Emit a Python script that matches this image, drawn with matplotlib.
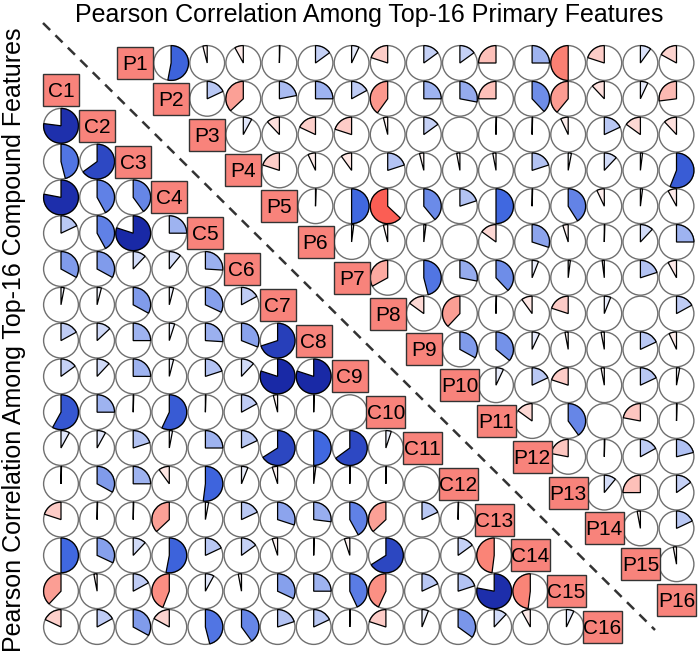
import numpy as np
import matplotlib.pyplot as plt
from matplotlib.patches import Circle, Wedge, Rectangle
from matplotlib.colors import LinearSegmentedColormap

plt.rcParams['font.family'] = ['Liberation Sans', 'DejaVu Sans']

title = "Pearson Correlation Among Top-16 Primary Features"
ylabel = "Pearson Correlation Among Top-16 Compound Features"
primary_labels = [f"P{i}" for i in range(1, 17)]
compound_labels = [f"C{i}" for i in range(1, 17)]

# lower triangle: row Ci against C1..C(i-1)
compound_corr = [
    [0.77],
    [0.46, 0.65],
    [0.78, 0.42, 0.40],
    [0.18, 0.42, 0.80, 0.25],
    [0.33, 0.33, 0.12, 0.11, 0.26],
    [0.03, 0.04, 0.33, 0.04, 0.32, 0.17],
    [0.17, 0.13, 0.25, 0.05, 0.26, 0.31, 0.70],
    [0.15, 0.12, 0.25, 0.04, 0.20, 0.12, 0.80, 0.80],
    [0.58, 0.25, 0.005, 0.57, 0.005, 0.17, -0.04, 0.005, 0.0],
    [0.08, 0.08, 0.20, 0.03, 0.25, 0.18, 0.66, 0.50, 0.65, 0.05],
    [0.005, 0.33, 0.25, -0.10, 0.52, 0.06, -0.05, 0.02, 0.005, 0.005, 0.0],
    [-0.20, 0.005, 0.005, -0.37, 0.03, 0.18, 0.30, 0.27, 0.42, -0.37, 0.18, 0.005],
    [0.50, 0.32, 0.12, 0.53, 0.18, 0.15, -0.05, 0.005, -0.05, 0.66, 0.0, 0.15, -0.48],
    [-0.38, -0.03, 0.17, -0.44, 0.08, -0.03, 0.32, 0.25, 0.43, -0.43, 0.18, 0.20, 0.78, -0.48],
    [-0.18, 0.17, 0.33, -0.17, 0.46, 0.40, 0.20, 0.18, 0.005, -0.20, 0.06, 0.35, 0.12, -0.08, 0.07],
]

# upper triangle: row Pi against P(i+1)..P16
primary_corr = [
    [0.53, -0.04, -0.08, 0.005, 0.15, 0.07, -0.20, 0.15, 0.15, -0.25, 0.25, -0.50, -0.20, 0.10, -0.17],
    [0.18, -0.37, 0.22, 0.25, 0.17, -0.40, 0.25, 0.28, -0.25, 0.38, -0.39, -0.12, 0.07, -0.27],
    [0.08, -0.12, -0.18, -0.20, -0.04, 0.15, 0.0, 0.005, 0.005, -0.07, 0.18, -0.15, -0.12],
    [-0.20, -0.07, -0.10, 0.20, -0.04, -0.03, -0.03, 0.20, 0.03, 0.12, 0.02, 0.56],
    [0.005, 0.50, -0.63, 0.39, 0.20, 0.50, 0.005, 0.41, -0.07, 0.02, -0.08],
    [0.02, -0.04, 0.02, 0.0, -0.15, 0.30, -0.05, 0.005, 0.12, 0.25],
    [-0.33, 0.46, 0.28, 0.38, 0.06, 0.02, -0.02, 0.20, -0.08],
    [-0.15, -0.38, 0.005, -0.10, -0.20, 0.06, 0.0, 0.17],
    [0.33, 0.36, 0.07, -0.03, -0.03, 0.18, -0.07],
    [0.07, 0.18, -0.20, -0.03, 0.18, 0.03],
    [-0.15, 0.40, 0.0, -0.22, 0.005],
    [-0.22, 0.005, 0.17, 0.21],
    [0.11, -0.25, 0.15],
    [-0.03, 0.18],
    [-0.03],
]

# layout in pixels (axes spans the whole figure, y down)
W, H = 700, 655
STEP_X, STEP_Y = 36.1, 35.8
R = 17.4
C_X0, C_Y0 = 61, 90     # C1 cell
P_X0, P_Y0 = 135, 63    # P1 cell

cmap = LinearSegmentedColormap.from_list(
    'corrgram', ['red', 'salmon', 'white', 'royalblue', 'navy'])

fig = plt.figure(figsize=(W / 100, H / 100), dpi=100)
ax = fig.add_axes([0, 0, 1, 1])
ax.set_xlim(0, W)
ax.set_ylim(H, 0)
ax.axis('off')


def pie_glyph(x, y, r):
    ax.add_patch(Circle((x, y), R, facecolor='white', edgecolor='#6f6f6f',
                        lw=1.0, zorder=2))
    if r == 0:
        return
    span = 360 * abs(r)
    # y axis is inverted: -90 is 12 o'clock, growing theta runs clockwise
    if r > 0:
        t1, t2 = -90, -90 + span
    else:
        t1, t2 = -90 - span, -90
    ax.add_patch(Wedge((x, y), R, t1, t2, facecolor=cmap((r + 1) / 2),
                       edgecolor='black', lw=0.9, zorder=3))


def label_box(x, y, text):
    w = 36 if len(text) == 2 else 39
    ax.add_patch(Rectangle((x - w / 2, y - 16), w, 32, facecolor='#F8837B',
                           edgecolor='#333333', lw=1.0, zorder=4))
    ax.text(x, y + 7, text, ha='center', va='baseline', fontsize=15,
            family=['Liberation Sans Narrow', 'Liberation Sans'], zorder=5)


# compound features, lower triangle
for i, lab in enumerate(compound_labels):
    label_box(C_X0 + STEP_X * i, C_Y0 + STEP_Y * i, lab)
for i, row in enumerate(compound_corr, start=1):
    for j, v in enumerate(row):
        pie_glyph(C_X0 + STEP_X * j, C_Y0 + STEP_Y * i, v)

# primary features, upper triangle
for i, lab in enumerate(primary_labels):
    label_box(P_X0 + STEP_X * i, P_Y0 + STEP_Y * i, lab)
for i, row in enumerate(primary_corr):
    for k, v in enumerate(row, start=i + 1):
        pie_glyph(P_X0 + STEP_X * k, P_Y0 + STEP_Y * i, v)

# separator
ax.plot([43, 655], [23, 630], color='#333333', lw=1.8,
        linestyle=(0, (4, 3)), zorder=1)

ax.text(369, 22, title, ha='center', va='baseline', fontsize=18)
ax.text(14.5, 340, ylabel, rotation=90, ha='center', va='center',
        fontsize=18)

fig.savefig('out.png', dpi=100)
